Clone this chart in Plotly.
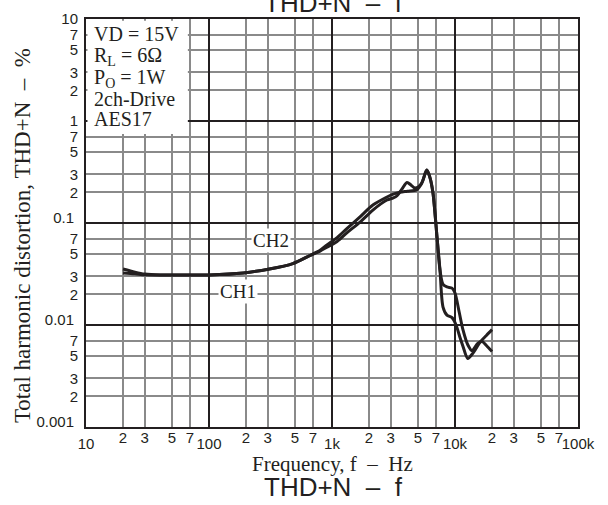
import plotly.graph_objects as go

# ---------------- data ----------------
freq_ch1 = [20, 25, 30, 40, 60, 100, 190, 310, 480, 660, 800, 910, 1100, 1320, 1690, 2150, 2800,
            3150, 3570, 4100, 4900, 5400, 5900, 6250, 6620, 7140, 7550, 7990, 8600, 9460, 10000,
            10800, 11600, 12700, 13750, 15300, 16600, 18000, 20000]
thd_ch1 = [0.0324, 0.0318, 0.0311, 0.0309, 0.0309, 0.0310, 0.0324, 0.0354, 0.0400, 0.0480, 0.0540,
           0.0610, 0.0720, 0.0880, 0.115, 0.150, 0.180,
           0.192, 0.200, 0.205, 0.212, 0.250, 0.330, 0.280, 0.197, 0.073, 0.0346, 0.0250, 0.0236, 0.0230,
           0.0206, 0.0135, 0.0090, 0.0064, 0.0056, 0.0066, 0.0069, 0.0063, 0.0055]

freq_ch2 = [20, 25, 30, 40, 60, 100, 190, 310, 480, 660, 800, 910, 1100, 1320, 1690, 2150, 2800,
            3150, 3380, 3700, 4070, 4400, 4730, 5300, 5900, 6250, 6620, 7140, 7550, 7990, 8600, 9460,
            10200, 11000, 11600, 12700, 14000, 16000, 18000, 20000]
thd_ch2 = [0.0354, 0.0330, 0.0316, 0.0309, 0.0309, 0.0310, 0.0324, 0.0354, 0.0400, 0.0480, 0.0530,
           0.0580, 0.0660, 0.0800, 0.102, 0.134, 0.168,
           0.176, 0.185, 0.215, 0.250, 0.235, 0.220, 0.240, 0.330, 0.280, 0.197, 0.073, 0.0346, 0.0150,
           0.0125, 0.0118, 0.0100, 0.0075, 0.0062, 0.0047, 0.0053, 0.0068, 0.0079, 0.0090]

x_decade_vals = [10, 100, 1000, 10000, 100000]
x_decade_text = ["10", "100", "1k", "10k", "100k"]
x_minor_vals = [20, 30, 50, 70, 200, 300, 500, 700, 2000, 3000, 5000, 7000,
                20000, 30000, 50000, 70000]
x_minor_text = ["2", "3", "5", "7"] * 4

y_decade_vals = [0.001, 0.01, 0.1, 1, 10]
y_decade_text = ["0.001", "0.01", "0.1", "", ""]
y_minor_vals = [0.002, 0.003, 0.005, 0.007, 0.02, 0.03, 0.05, 0.07, 0.2, 0.3, 0.5, 0.7, 1,
                2, 3, 5, 7, 10]
y_minor_text = ["2", "3", "5", "7", "2", "3", "5", "7", "2", "3", "5", "7", "1",
                "2", "3", "5", "7", "10"]

conditions = ["VD = 15V", "R<sub>L</sub> = 6Ω", "P<sub>O</sub> = 1W", "2ch-Drive", "AES17"]

INK = "#231f20"
GRID = "#8a8a8a"
SANS = "Liberation Sans, Arial, sans-serif"
SERIF = "Liberation Serif, Times New Roman, serif"
NB = "\u00a0"

fig = go.Figure()
fig.add_trace(go.Scatter(x=freq_ch1, y=thd_ch1, mode="lines", name="CH1",
                         line=dict(color=INK, width=3, shape="spline", smoothing=0.8),
                         xaxis="x", yaxis="y"))
fig.add_trace(go.Scatter(x=freq_ch2, y=thd_ch2, mode="lines", name="CH2",
                         line=dict(color=INK, width=3, shape="spline", smoothing=0.8),
                         xaxis="x2", yaxis="y2"))

axis_common = dict(type="log", ticks="", zeroline=False, fixedrange=True, automargin=False)

fig.update_layout(
    width=608, height=505,
    margin=dict(l=86, r=30, t=19, b=78, autoexpand=False),
    paper_bgcolor="white", plot_bgcolor="white",
    showlegend=False,
    xaxis=dict(**axis_common, range=[1, 5],
               tickmode="array", tickvals=x_decade_vals, ticktext=x_decade_text,
               showgrid=True, gridcolor=INK, gridwidth=1.5,
               minor=dict(tickmode="array", tickvals=x_minor_vals, showgrid=True,
                          gridcolor=GRID, gridwidth=1.5, ticks=""),
               showline=True, linecolor=INK, linewidth=2, mirror=True,
               tickfont=dict(family=SANS, size=15, color=INK),
               ticklabelstandoff=2),
    xaxis2=dict(**axis_common, overlaying="x", matches="x", side="bottom", anchor="y",
                tickmode="array", tickvals=x_minor_vals, ticktext=x_minor_text,
                showgrid=False, showline=False,
                tickfont=dict(family=SANS, size=15, color=INK), ticklabelstandoff=0),
    yaxis=dict(**axis_common, range=[-3, 1],
               tickmode="array", tickvals=y_decade_vals, ticktext=y_decade_text,
               showgrid=True, gridcolor=INK, gridwidth=1.5,
               minor=dict(tickmode="array", tickvals=y_minor_vals, showgrid=True,
                          gridcolor=GRID, gridwidth=1.5, ticks=""),
               showline=True, linecolor=INK, linewidth=2, mirror=True,
               tickfont=dict(family=SANS, size=15, color=INK),
               ticklabelstandoff=7, ticklabelshift=-5),
    yaxis2=dict(**axis_common, overlaying="y", matches="y", side="left", anchor="x",
                tickmode="array", tickvals=y_minor_vals, ticktext=y_minor_text,
                showgrid=False, showline=False,
                tickfont=dict(family=SANS, size=15, color=INK), ticklabelstandoff=7),
)

# white box behind condition text
fig.add_shape(type="rect", xref="x domain", yref="y domain",
              x0=0.003, x1=0.207, y0=0.718, y1=0.996,
              fillcolor="white", line=dict(width=0), layer="above")

cond_y = [0.963, 0.907, 0.854, 0.805, 0.756]
for txt, yy in zip(conditions, cond_y):
    fig.add_annotation(text=txt, xref="x domain", yref="y domain", x=0.012, y=yy,
                       xanchor="left", yanchor="middle", showarrow=False,
                       font=dict(family=SERIF, size=20, color=INK))

# channel labels
fig.add_annotation(text="CH1", x=2.236, y=-1.676, xref="x", yref="y", showarrow=False,
                   font=dict(family=SERIF, size=19, color=INK), bgcolor="white", borderpad=1)
fig.add_annotation(text="CH2", x=2.504, y=-1.167, xref="x", yref="y", showarrow=False,
                   font=dict(family=SERIF, size=19, color=INK), bgcolor="white", borderpad=1)

# axis titles
fig.add_annotation(text="Frequency, f" + NB + NB + "–" + NB + NB + "Hz",
                   xref="x domain", yref="y domain", x=0.5, y=-0.091,
                   xanchor="center", yanchor="middle", showarrow=False,
                   font=dict(family=SERIF, size=21, color=INK))
fig.add_annotation(text="Total harmonic distortion, THD+N" + NB + NB + "–" + NB + NB + "%",
                   xref="paper", yref="y domain", x=-0.13, y=0.468, textangle=-90,
                   xanchor="center", yanchor="middle", showarrow=False,
                   font=dict(family=SERIF, size=23, color=INK))

# chart caption (bottom) and cut-off copy at top
caption = "THD+N" + NB + NB + "–" + NB + NB + "f"
fig.add_annotation(text=caption, xref="x domain", yref="y domain", x=0.503, y=-0.147,
                   xanchor="center", yanchor="middle", showarrow=False,
                   font=dict(family=SANS, size=26, color=INK))
fig.add_annotation(text=caption, xref="x domain", yref="y domain", x=0.503, y=1.039,
                   xanchor="center", yanchor="middle", showarrow=False,
                   font=dict(family=SANS, size=26, color=INK))

fig.write_html("out.html", config={"displayModeBar": False},
               post_script="document.body.style.margin='0';")
